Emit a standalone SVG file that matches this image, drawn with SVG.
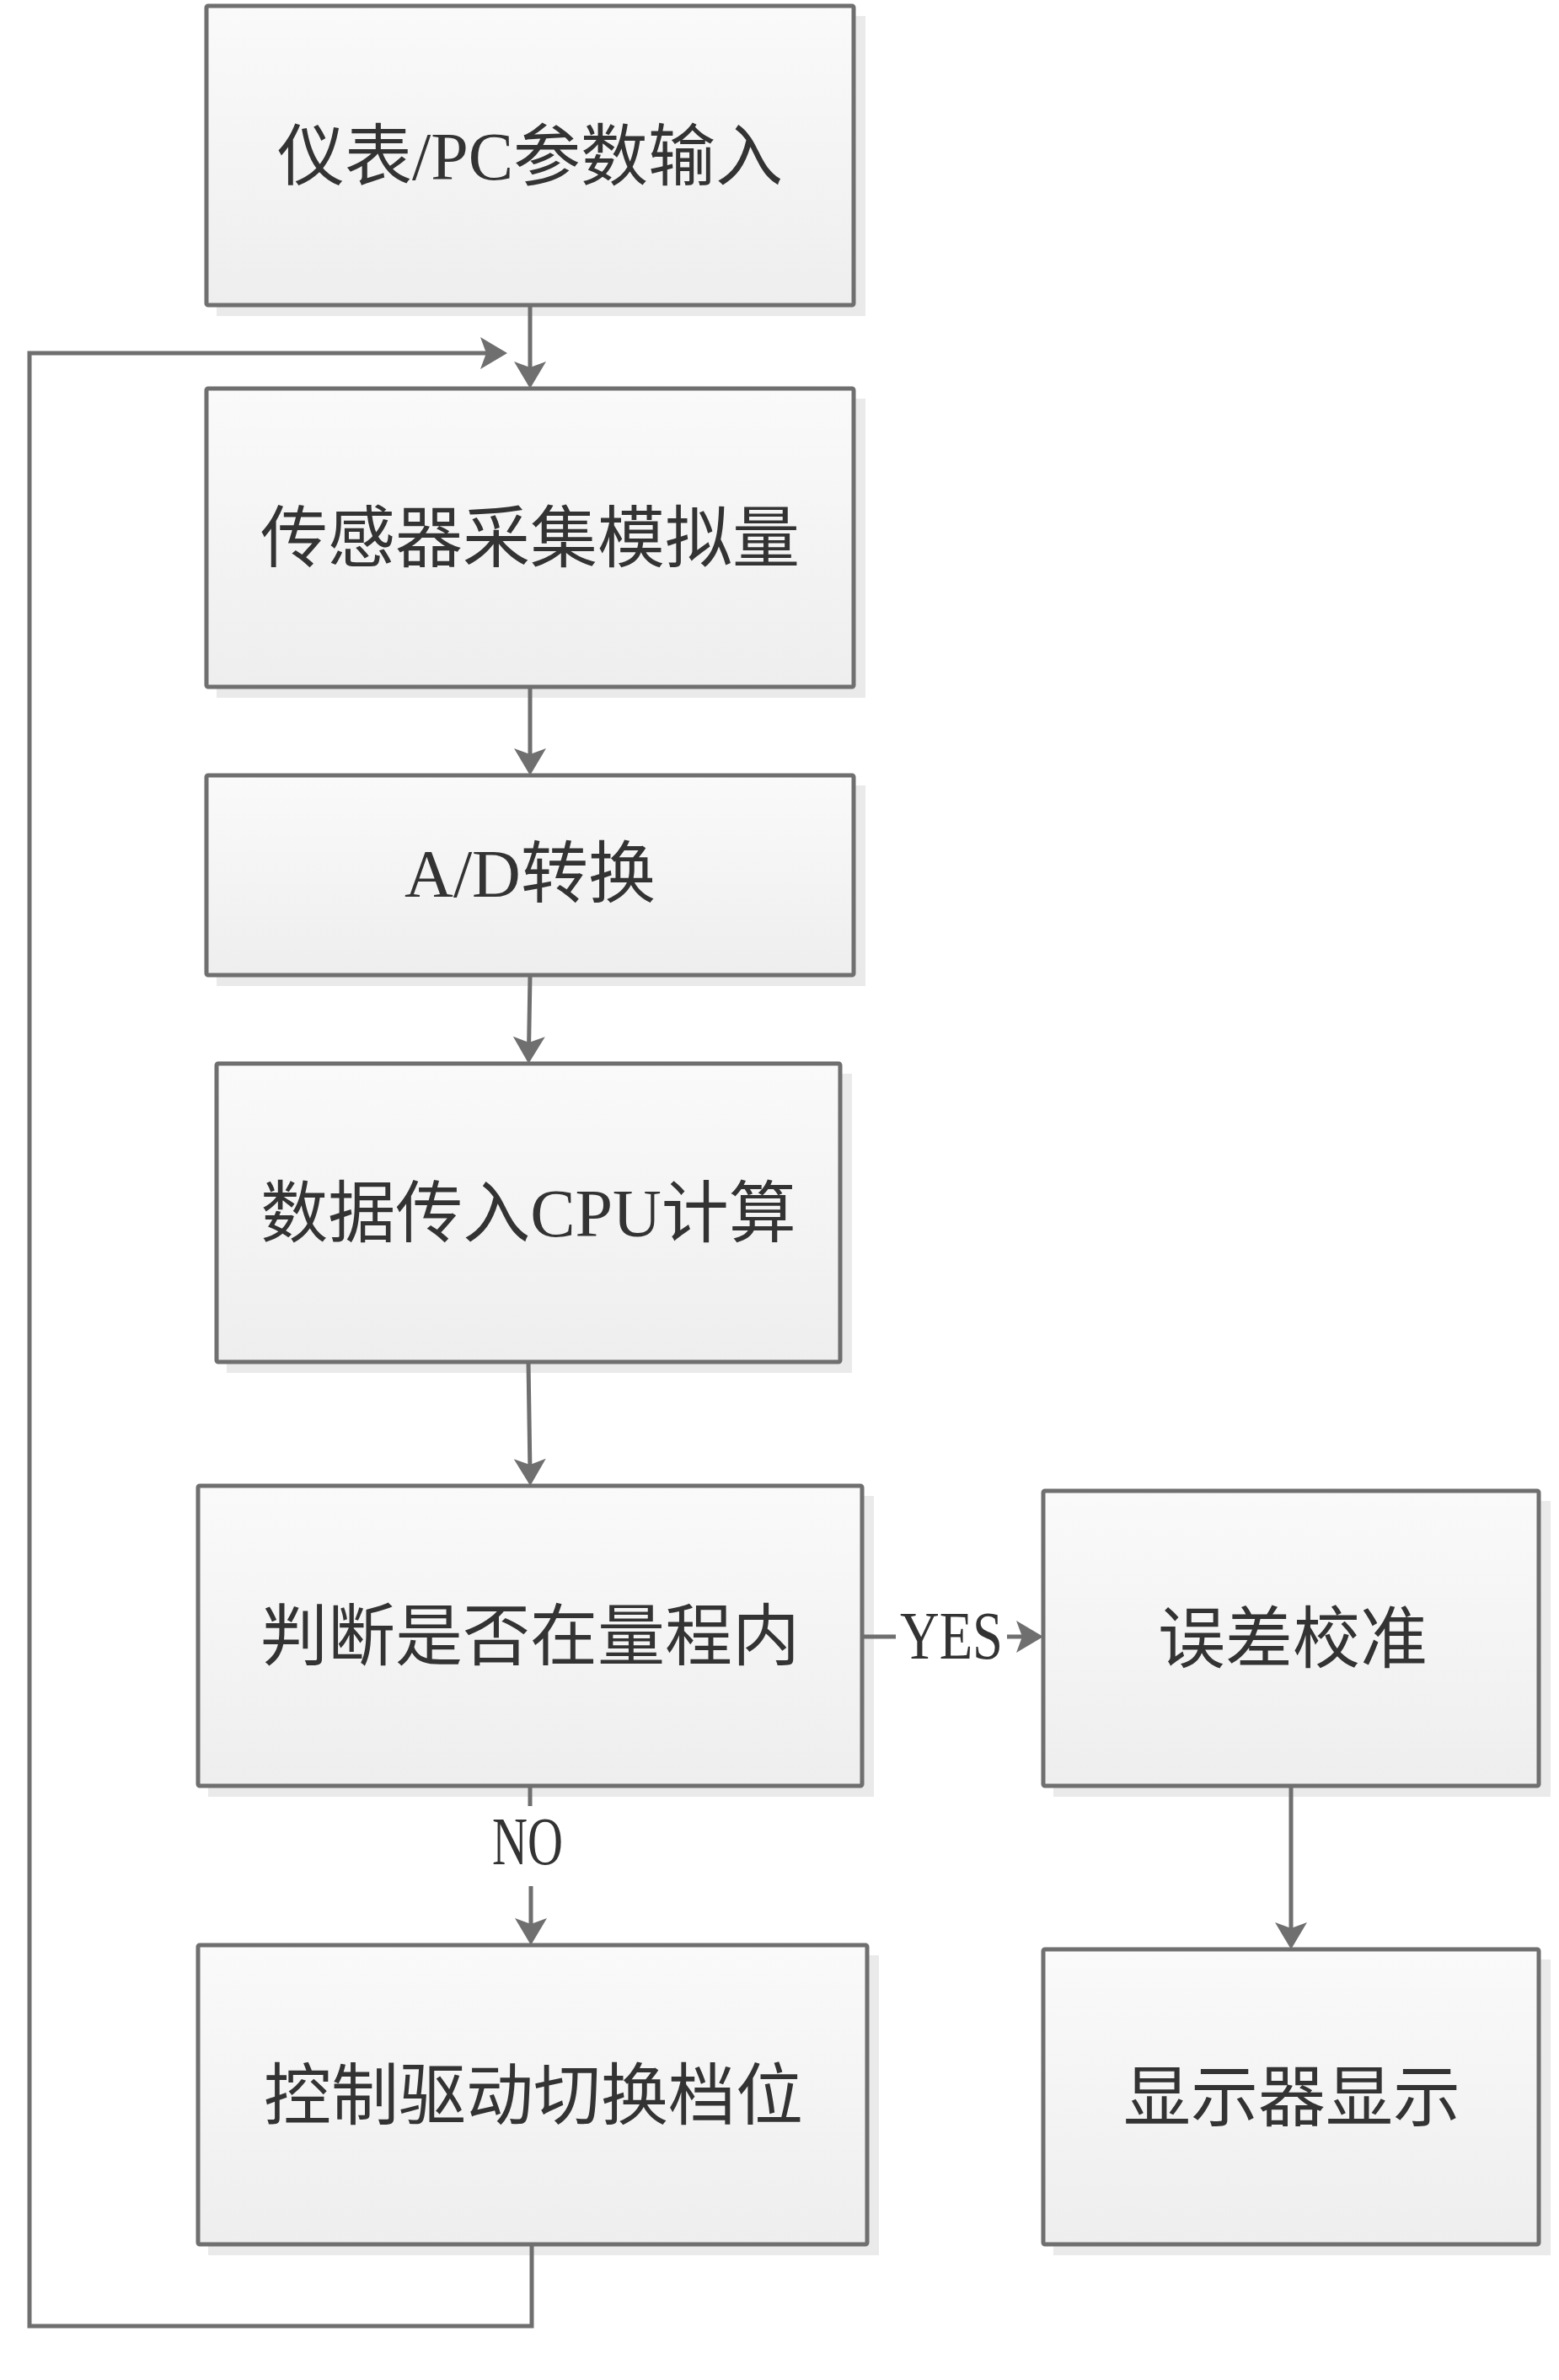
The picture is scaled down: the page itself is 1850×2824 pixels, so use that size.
<svg xmlns="http://www.w3.org/2000/svg" width="1850" height="2824" viewBox="0 0 1850 2824">
<defs>
<linearGradient id="boxfill" x1="0" y1="0" x2="0" y2="1">
<stop offset="0" stop-color="#fafafa"/>
<stop offset="1" stop-color="#eeeeee"/>
</linearGradient>
<marker id="arrow" viewBox="-20 -21 38 42" refX="0" refY="0" markerWidth="38" markerHeight="42" markerUnits="userSpaceOnUse" orient="auto">
<path d="M15,0 L-17,-19 L-10,0 L-17,19 Z" fill="#6f6f6f"/>
</marker>
</defs>
<style>
.shadow{fill:#eaeaea;stroke:none}
.box{fill:url(#boxfill);stroke:#6f6f6f;stroke-width:5}
.lbl{font-family:"Liberation Serif","Noto Sans CJK SC",serif;font-size:80px;fill:#333333;text-anchor:middle}
.edge{fill:none;stroke:#6f6f6f;stroke-width:5}
</style>
<rect width="1850" height="2824" fill="#ffffff"/>
<g id="n1">
<rect class="shadow" x="257" y="19" width="770" height="356"/>
<rect class="box" x="245" y="7" width="768" height="355" rx="2"/>
<text class="lbl" x="629" y="213">仪表/PC参数输入</text>
</g>
<g id="n2">
<rect class="shadow" x="257" y="473" width="770" height="355"/>
<rect class="box" x="245" y="461" width="768" height="354" rx="2"/>
<text class="lbl" x="629" y="666">传感器采集模拟量</text>
</g>
<g id="n3">
<rect class="shadow" x="257" y="932" width="770" height="238"/>
<rect class="box" x="245" y="920" width="768" height="237" rx="2"/>
<text class="lbl" x="629" y="1064">A/D转换</text>
</g>
<g id="n4">
<rect class="shadow" x="269" y="1274" width="742" height="355"/>
<rect class="box" x="257" y="1262" width="740" height="354" rx="2"/>
<text class="lbl" x="627" y="1467">数据传入CPU计算</text>
</g>
<g id="n5">
<rect class="shadow" x="247" y="1775" width="790" height="357"/>
<rect class="box" x="235" y="1763" width="788" height="356" rx="2"/>
<text class="lbl" x="629" y="1969">判断是否在量程内</text>
</g>
<g id="n6">
<rect class="shadow" x="1250" y="1781" width="590" height="351"/>
<rect class="box" x="1238" y="1769" width="588" height="350" rx="2"/>
<text class="lbl" x="1534" y="1972">误差校准</text>
</g>
<g id="n7">
<rect class="shadow" x="247" y="2320" width="796" height="356"/>
<rect class="box" x="235" y="2308" width="794" height="355" rx="2"/>
<text class="lbl" x="633" y="2514">控制驱动切换档位</text>
</g>
<g id="n8">
<rect class="shadow" x="1250" y="2325" width="590" height="351"/>
<rect class="box" x="1238" y="2313" width="588" height="350" rx="2"/>
<text class="lbl" x="1533" y="2516">显示器显示</text>
</g>
<g id="connectors">
<line class="edge" x1="629" y1="362" x2="629" y2="446" marker-end="url(#arrow)"/>
<line class="edge" x1="629" y1="815" x2="629" y2="905" marker-end="url(#arrow)"/>
<line class="edge" x1="629" y1="1157" x2="627.5" y2="1247" marker-end="url(#arrow)"/>
<line class="edge" x1="627" y1="1616" x2="629" y2="1748" marker-end="url(#arrow)"/>
<line class="edge" x1="1023" y1="1942" x2="1063" y2="1942"/>
<line class="edge" x1="1195" y1="1942" x2="1223" y2="1942" marker-end="url(#arrow)"/>
<text class="lbl" x="1129" y="1968" textLength="122" lengthAdjust="spacingAndGlyphs">YES</text>
<line class="edge" x1="629" y1="2119" x2="629" y2="2143"/>
<line class="edge" x1="630" y1="2238" x2="630" y2="2293" marker-end="url(#arrow)"/>
<text class="lbl" x="626" y="2212" textLength="84" lengthAdjust="spacingAndGlyphs">NO</text>
<line class="edge" x1="1532" y1="2119" x2="1532" y2="2298" marker-end="url(#arrow)"/>
<path class="edge" d="M631,2663 L631,2760 L35,2760 L35,419 L587,419" marker-end="url(#arrow)"/>
</g>
</svg>
